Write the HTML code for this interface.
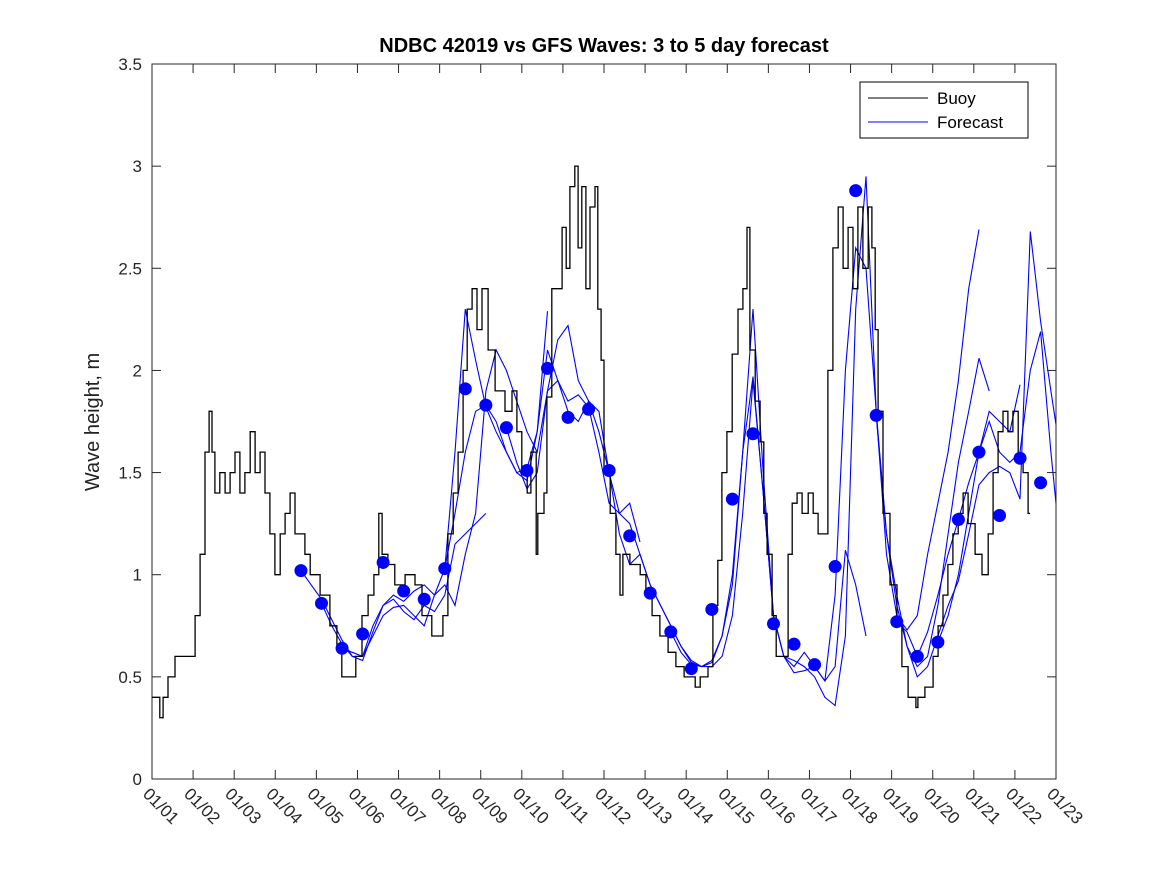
<!DOCTYPE html>
<html><head><meta charset="utf-8"><style>
body{margin:0;background:#fff;}
svg{display:block;font-family:"Liberation Sans","DejaVu Sans",sans-serif;}
</style></head><body>
<svg id="chart" width="1167" height="875" viewBox="0 0 1167 875">
<defs><clipPath id="pc"><rect x="152" y="64" width="904" height="715"/></clipPath></defs>
<rect x="0" y="0" width="1167" height="875" fill="#fff"/>
<text x="604" y="52" text-anchor="middle" font-size="20" font-weight="bold">NDBC 42019 vs GFS Waves: 3 to 5 day forecast</text>
<text transform="translate(99,422) rotate(-90)" text-anchor="middle" font-size="20" fill="#222">Wave height, m</text>
<g id="axes"></g>
<g id="series" clip-path="url(#pc)"></g>
<g id="dots"></g>
<rect x="860" y="82" width="168" height="56" fill="#fff" stroke="#000" stroke-width="1"/>
<line x1="868" y1="98" x2="928" y2="98" stroke="#000"/>
<text x="937" y="104" font-size="17">Buoy</text>
<line x1="868" y1="122" x2="928" y2="122" stroke="#00f"/>
<text x="937" y="128" font-size="17">Forecast</text>
</svg>
<script>
const dayLabels=["01/01","01/02","01/03","01/04","01/05","01/06","01/07","01/08","01/09","01/10","01/11","01/12","01/13","01/14","01/15","01/16","01/17","01/18","01/19","01/20","01/21","01/22","01/23"];
const yTicks=[0,0.5,1,1.5,2,2.5,3,3.5];
const buoyDays=[0,0.19,0.27,0.39,0.56,0.92,1.05,1.17,1.29,1.39,1.46,1.53,1.65,1.78,1.9,2.02,2.14,2.26,2.39,2.51,2.63,2.75,2.87,2.99,3.12,3.24,3.36,3.48,3.6,3.72,3.85,4.09,4.33,4.5,4.62,4.87,4.96,5.11,5.26,5.4,5.52,5.6,5.74,5.91,6.16,6.4,6.57,6.81,7.08,7.2,7.33,7.45,7.57,7.67,7.79,7.91,8.03,8.18,8.35,8.59,8.76,8.88,9.0,9.13,9.22,9.35,9.39,9.54,9.61,9.73,9.88,9.98,10.08,10.17,10.29,10.37,10.46,10.56,10.66,10.78,10.85,10.93,11.0,11.15,11.29,11.39,11.46,11.63,11.88,12.02,12.17,12.36,12.56,12.75,12.95,13.22,13.34,13.53,13.65,13.77,13.87,13.99,14.12,14.26,14.38,14.48,14.55,14.68,14.8,14.89,14.97,15.09,15.19,15.43,15.48,15.58,15.7,15.82,15.97,16.09,16.21,16.33,16.45,16.57,16.7,16.82,16.94,17.06,17.18,17.3,17.43,17.52,17.6,17.67,17.79,17.96,18.13,18.25,18.4,18.59,18.64,18.81,19.01,19.13,19.25,19.37,19.49,19.62,19.74,19.86,20.03,20.2,20.35,20.47,20.59,20.71,20.83,20.95,21.08,21.2,21.32,21.37];
const buoyValues=[0.4,0.3,0.4,0.5,0.6,0.6,0.8,1.1,1.6,1.8,1.6,1.4,1.5,1.4,1.5,1.6,1.4,1.5,1.7,1.5,1.6,1.4,1.2,1.0,1.2,1.3,1.4,1.2,1.2,1.1,1.0,0.9,0.75,0.65,0.5,0.5,0.6,0.8,0.9,1.0,1.3,1.1,1.05,0.95,1.0,0.95,0.8,0.7,0.8,1.2,1.4,1.6,2.0,2.3,2.4,2.2,2.4,2.1,1.9,1.8,1.9,1.7,1.5,1.4,1.6,1.1,1.3,1.4,1.87,2.4,2.4,2.7,2.5,2.9,3.0,2.6,2.9,2.4,2.8,2.9,2.3,2.05,1.5,1.3,1.1,0.9,1.1,1.05,1.0,0.9,0.8,0.7,0.62,0.55,0.5,0.45,0.5,0.55,0.85,1.07,1.5,1.7,2.08,2.3,2.4,2.7,2.1,1.85,1.65,1.3,1.1,0.8,0.6,0.6,1.1,1.35,1.4,1.3,1.4,1.3,1.2,1.2,2.0,2.6,2.8,2.5,2.7,2.4,2.8,2.5,2.8,2.6,2.2,1.8,1.3,0.95,0.75,0.55,0.4,0.35,0.4,0.45,0.6,0.75,0.9,1.05,1.2,1.3,1.4,1.25,1.1,1.0,1.2,1.5,1.7,1.8,1.7,1.8,1.55,1.5,1.3,1.3];
const dotStart=3.625, dotStep=0.5;
const dotValues=[1.02,0.86,0.64,0.71,1.06,0.92,0.88,1.03,1.91,1.83,1.72,1.51,2.01,1.77,1.81,1.51,1.19,0.91,0.72,0.54,0.83,1.37,1.69,0.76,0.66,0.56,1.04,2.88,1.78,0.77,0.60,0.67,1.27,1.60,1.29,1.57,1.45];
const fcStep=0.25;
const fcStarts=[3.625,4.125,4.625,7.125,8.625,12.625,17.625,18.125,19.125];
const fc1=[1.02,0.95,0.88,0.78,0.68,0.6,0.6,0.75,0.85,0.88,0.82,0.78,0.85,0.82,0.9,1.15,1.2,1.25,1.3];
const fc2=[0.86,0.75,0.66,0.6,0.58,0.72,0.85,0.9,0.87,0.92,0.95,0.9,1.03,1.6,2.3,2.05,1.82,1.7,1.6,1.5,1.46,1.7,2.29];
const fc3=[0.64,0.62,0.6,0.7,0.8,0.84,0.85,0.8,0.75,0.9,0.95,0.85,1.1,1.3,1.9,2.1,2.0,1.85,1.7,1.6,1.9,1.95,1.85,1.88,1.82,1.6,1.35,1.3,1.35,1.16];
const fc4=[1.03,1.3,1.6,1.8,1.83,1.75,1.6,1.5,1.52,1.7,2.1,1.95,1.8,1.75,1.85,1.7,1.5,1.2,1.05,1.1,0.95,0.85,0.75,0.65,0.58,0.55,0.55,0.6,0.8,1.3,1.95,1.4,0.8,0.6,0.58,0.55,0.5,0.4,0.36,0.7,2.3,2.95,1.8,1.1,0.8,0.73,0.8,1.1,1.35,1.6,1.95,2.4,2.69];
const fc5=[1.72,1.55,1.42,1.5,1.9,2.15,2.22,1.95,1.85,1.8,1.5,1.3,1.25,1.1,0.95,0.85,0.75,0.65,0.57,0.55,0.57,0.7,0.95,1.6,2.3,1.5,0.8,0.6,0.55,0.62,0.55,0.48,0.9,2.0,2.6,2.5,1.8,1.2,0.9,0.65,0.55,0.6,0.85,1.2,1.55,1.8,2.06,1.9];
const fc6=[0.72,0.62,0.56,0.55,0.58,0.7,1.0,1.6,1.97,1.4,0.8,0.6,0.52,0.53,0.55,0.48,0.55,1.12,0.95,0.7];
const fc7=[1.78,1.2,0.85,0.65,0.5,0.55,0.7,0.85,0.97,1.2,1.44,1.5,1.53,1.5,1.37,2.68,2.24,1.9,1.57,1.5];
const fc8=[0.77,0.72,0.6,0.72,0.9,1.1,1.27,1.45,1.6,1.75,1.6,1.55,1.6,2.0,2.19,1.6,1.1];
const fc9=[0.67,0.8,1.0,1.3,1.6,1.8,1.75,1.7,1.93];

const X0=152,X1=1056,Y0=779,Y1=64;
const xs=d=>X0+(X1-X0)*d/22;
const ys=v=>Y0-(Y0-Y1)*v/3.5;
const NS="http://www.w3.org/2000/svg";
const mk=(t,a,p)=>{const e=document.createElementNS(NS,t);for(const k in a)e.setAttribute(k,a[k]);p.appendChild(e);return e;};
const axes=document.getElementById('axes');
const frame=mk('rect',{x:X0,y:Y1,width:X1-X0,height:Y0-Y1,fill:'none',stroke:'#262626','stroke-width':1},axes);


dayLabels.forEach((lab,i)=>{
  const x=xs(i);
  mk('line',{x1:x,y1:Y0,x2:x,y2:Y0-9,stroke:'#262626'},axes);
  mk('line',{x1:x,y1:Y1,x2:x,y2:Y1+9,stroke:'#262626'},axes);
  const t=mk('text',{x:0,y:0,'font-size':17,fill:'#262626',transform:`translate(${x-10},${Y0+16}) rotate(45)`},axes);
  t.textContent=lab;
  
  
});
yTicks.forEach(v=>{
  const y=ys(v);
  mk('line',{x1:X0,y1:y,x2:X0+9,y2:y,stroke:'#262626'},axes);
  mk('line',{x1:X1,y1:y,x2:X1-9,y2:y,stroke:'#262626'},axes);
  const t=mk('text',{x:X0-10,y:y+6,'font-size':17,fill:'#262626','text-anchor':'end'},axes);
  t.textContent=String(v);
  
  
});
const ser=document.getElementById('series');
const fcs=[fc1,fc2,fc3,fc4,fc5,fc6,fc7,fc8,fc9];
fcs.forEach((arr,k)=>{
  const pts=arr.map((v,i)=>xs(fcStarts[k]+i*fcStep).toFixed(1)+','+ys(v).toFixed(1)).join(' ');
  const p=mk('polyline',{points:pts,fill:'none',stroke:'#0000ff','stroke-width':1.1},ser);
  
  
});
let bp='';
buoyDays.forEach((d,i)=>{
  const x=xs(d).toFixed(1),y=ys(buoyValues[i]).toFixed(1);
  if(i===0)bp+=`M${x},${y}`;else bp+=`H${x}V${y}`;
});
const b=mk('path',{d:bp,fill:'none',stroke:'#000','stroke-width':1.3},ser);


const dots=document.getElementById('dots');
dotValues.forEach((v,i)=>{
  const c=mk('circle',{cx:xs(dotStart+i*dotStep),cy:ys(v),r:6.5,fill:'#0000ff'},dots);
  
  
});
</script>
</body></html>
